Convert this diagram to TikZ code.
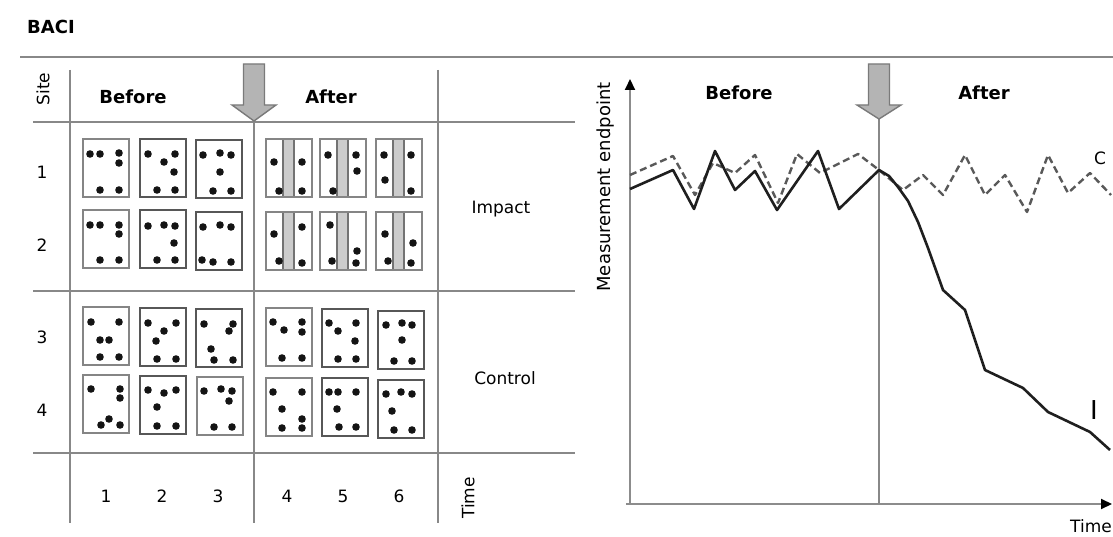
\documentclass[tikz,border=0pt]{standalone}
\usepackage{fontspec}
\setmainfont{DejaVu Sans}
\usetikzlibrary{arrows.meta}
\definecolor{gridgray}{HTML}{888888}
\definecolor{arrowfill}{HTML}{B4B4B4}
\definecolor{arrowline}{HTML}{7A7A7A}
\tikzset{
  gridline/.style={draw=gridgray, line width=2pt},
  boxL/.style={draw=black!48, line width=1.7pt},
  boxD/.style={draw=black!66, line width=2.1pt},
  lab/.style={font=\fontsize{17}{20}\selectfont, inner sep=0pt},
  blab/.style={font=\bfseries\fontsize{18}{21}\selectfont, inner sep=0pt},
  garrow/.style={fill=arrowfill, draw=arrowline, line width=1.4pt, line join=miter},
  axisline/.style={draw=black!45, line width=2pt},
  solidseries/.style={draw=black!88, line width=2.6pt, line join=round},
  dashseries/.style={draw=black!65, line width=2.4pt, dash pattern=on 7pt off 4pt, line join=round},
}
\newcommand\mybox[4][boxL]{%
  \draw[#1] (#2,#3) rectangle ++(46,58);
  \foreach \a/\b in {#4} \fill[black!92] (#2+\a,#3+\b) circle[radius=3.8pt];
}
\newcommand\mystrip[3]{%
  \fill[black!20] (#1+17,#2) rectangle (#1+28,#2+58);
  \draw[black!55, line width=1.3pt] (#1+17,#2) -- (#1+17,#2+58) (#1+28,#2) -- (#1+28,#2+58);
  \draw[white!60!gray, line width=1pt, dash pattern=on 3pt off 3pt] (#1+22.5,#2+2) -- (#1+22.5,#2+56);
  \draw[boxL] (#1,#2) rectangle ++(46,58);
  \foreach \a/\b in {#3} \fill[black!92] (#1+\a,#2+\b) circle[radius=3.8pt];
}
\newcommand\grayarrow[2]{%
  \draw[garrow] (#1-10.5,64) -- (#1+10.5,64) -- (#1+10.5,105) -- (#1+22,105) -- (#1,#2) -- (#1-22,105) -- (#1-10.5,105) -- cycle;
}
\begin{document}
\begin{tikzpicture}[x=1pt,y=-1pt]
\useasboundingbox (0,0) rectangle (1113,537);
\fill[white] (0,0) rectangle (1113,537);

% title and top rule
\node[blab, anchor=west] (title) at (27,27) {BACI};
\draw[gridline] (20,57) -- (1113,57);

% ---------- left table ----------
\draw[gridline] (33,122) -- (575,122);
\draw[gridline] (33,291) -- (575,291);
\draw[gridline] (33,453) -- (575,453);
\draw[gridline] (70,70) -- (70,523);
\draw[gridline] (254,118) -- (254,523);
\draw[gridline] (438,70) -- (438,523);
\grayarrow{254}{121}

\node[lab, rotate=90] (site) at (43,89) {Site};
\node[blab] (tbefore) at (133,97) {Before};
\node[blab] (tafter) at (331,97) {After};
\node[lab] (r1) at (42,172) {1};
\node[lab] (r2) at (42,245) {2};
\node[lab] (r3) at (42,337) {3};
\node[lab] (r4) at (42,410) {4};
\node[lab] (impact) at (501,209) {Impact};
\node[lab] (control) at (505,378) {Control};
\node[lab] (t1) at (106,496) {1};
\node[lab] (t2) at (162,496) {2};
\node[lab] (t3) at (218,496) {3};
\node[lab] (t4) at (287,496) {4};
\node[lab] (t5) at (343,496) {5};
\node[lab] (t6) at (399,496) {6};
\node[lab, rotate=90] (ttime) at (468,498) {Time};

% impact, before
\mybox[boxL]{83}{139}{7/15,17/15,36/14,36/24,17/51,36/51}
\mybox[boxD]{140}{139}{8/15,35/15,24/23,34/33,17/51,35/51}
\mybox[boxD]{196}{140}{7/15,24/13,35/15,24/32,17/51,35/51}
\mybox[boxL]{83}{210}{7/15,17/15,36/15,36/24,17/50,36/50}
\mybox[boxD]{140}{210}{8/16,24/15,35/16,34/33,17/50,35/50}
\mybox[boxD]{196}{212}{7/15,24/13,35/15,6/48,17/50,35/50}
% impact, after
\mystrip{266}{139}{8/23,36/23,13/52,36/52}
\mystrip{320}{139}{8/16,36/16,37/32,13/52}
\mystrip{376}{139}{8/16,35/16,9/41,35/52}
\mystrip{266}{212}{8/22,36/15,13/49,36/51}
\mystrip{320}{212}{10/13,37/39,12/49,36/51}
\mystrip{376}{212}{9/22,37/31,12/49,35/51}
% control, before
\mybox[boxL]{83}{307}{8/15,36/15,17/33,26/33,17/50,36/50}
\mybox[boxD]{140}{308}{8/15,36/15,24/23,16/33,17/51,36/51}
\mybox[boxD]{196}{309}{8/15,37/15,33/22,15/40,18/51,37/51}
\mybox[boxL]{83}{375}{8/14,37/14,37/23,26/44,18/50,37/50}
\mybox[boxD]{140}{376}{8/14,24/17,36/14,17/31,17/50,36/50}
\mybox[boxL]{197}{377}{7/14,24/12,35/14,32/24,17/50,35/50}
% control, after
\mybox[boxL]{266}{308}{7/14,18/22,36/14,36/24,16/50,36/50}
\mybox[boxD]{322}{309}{7/14,16/22,34/14,33/32,16/50,34/50}
\mybox[boxD]{378}{311}{8/14,24/12,34/14,24/29,16/50,34/50}
\mybox[boxL]{266}{378}{7/14,36/14,16/31,36/41,16/50,36/50}
\mybox[boxD]{322}{378}{7/14,16/14,34/14,15/31,17/49,34/49}
\mybox[boxD]{378}{380}{8/14,23/12,34/14,14/31,16/50,34/50}

% ---------- right chart ----------
\coordinate (origin) at (630,504);
\coordinate (ytip) at (630,79);
\coordinate (xtip) at (1112,504);
\draw[axisline, -{Triangle[length=11pt,width=10pt,color=black]}] (origin) -- (ytip);
\draw[axisline, -{Triangle[length=11pt,width=10pt,color=black]}] (626,504) -- (xtip);
\draw[gridline] (879,116) -- (879,504);
\grayarrow{879}{119}

\node[font=\fontsize{18}{21}\selectfont, inner sep=0pt, rotate=90] (yaxlab) at (606,187) {Measurement endpoint};
\node[blab] (cbefore) at (739,93) {Before};
\node[blab] (cafter) at (984,93) {After};
\node[lab, anchor=east] (xaxlab) at (1112,526) {Time};
\node[lab] (clab) at (1100,158) {C};
\node[font=\fontsize{26}{28}\selectfont, inner sep=0pt] (ilab) at (1094,410) {I};

\draw[dashseries] (630,175) -- (673,156) -- (695,195) -- (713,163) -- (735,173) -- (755,155)
  -- (778,203) -- (797,154) -- (820,173) -- (858,154) -- (879,170) -- (903,190) -- (923,175)
  -- (943,195) -- (965,155) -- (985,195) -- (1005,175) -- (1027,212) -- (1048,155)
  -- (1068,193) -- (1090,173) -- (1111,195);
\draw[solidseries] (630,189) -- (673,170) -- (694,209) -- (715,151) -- (735,190) -- (755,171)
  -- (777,210) -- (818,151) -- (839,209) -- (879,170) -- (889,176) -- (898,187) -- (908,201)
  -- (918,222) -- (928,248) -- (943,290) -- (965,310) -- (985,370) -- (1023,388)
  -- (1048,412) -- (1090,432) -- (1110,450);
\end{tikzpicture}
\end{document}
